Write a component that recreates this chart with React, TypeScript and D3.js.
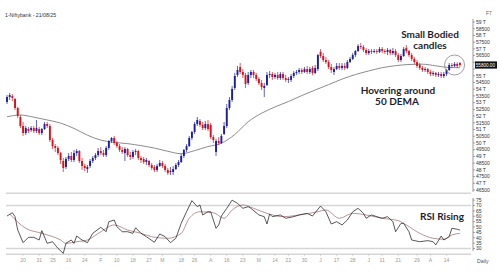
import React from 'react';
import * as d3 from 'd3';

// ---- Daily OHLC (Bank Nifty, Dec-2024 .. 21 Aug 2025) ----
const opens = [
  53050, 53420, 53490, 53270, 52600, 51930, 51260, 50740, 51040, 50960,
  51110, 50890, 51040, 50740, 51040, 51410, 51260, 50220, 49770, 49630,
  49250, 48660, 48210, 48810, 49030, 48730, 49250, 49400, 48660, 48290,
  48060, 48290, 48660, 48880, 49100, 49400, 49250, 49100, 49630, 50150,
  50370, 50000, 49770, 49480, 49250, 49550, 49100, 48960, 49330, 49400,
  48880, 48810, 48580, 48660, 48360, 48210, 47990, 48290, 48510, 48290,
  47990, 47840, 47840, 48060, 48360, 48580, 49030, 49480, 49770, 50370,
  50820, 51410, 51630, 51340, 51110, 51410, 51340, 50440, 49330, 50150,
  50000, 50670, 51260, 52600, 53200, 54090, 55060, 55650, 55280, 55060,
  54460, 55060, 55280, 55060, 54760, 54460, 54090, 54310, 55060, 55130,
  54910, 55060, 54830, 55130, 54830, 54690, 54690, 54980, 55210, 55280,
  55430, 55280, 55500, 55280, 55580, 55210, 55500, 56770, 56470, 56170,
  56020, 55650, 55280, 55500, 55730, 55580, 55730, 55580, 56020, 56250,
  56540, 56840, 57210, 57140, 56920, 56690, 56840, 56770, 56840, 56770,
  56990, 56840, 56770, 56920, 56690, 56840, 56540, 56170, 56470, 57070,
  56840, 56540, 56250, 56020, 55800, 55580, 55430, 55500, 55280, 55130,
  55210, 55060, 55130, 54980, 55130, 55430, 55800, 55730, 55880, 55950,
];
const highs = [
  53570, 53720, 53640, 53350, 52680, 52080, 51560, 51260, 51190, 51260,
  51260, 51710, 51190, 51110, 51560, 51560, 51410, 50370, 49920, 49770,
  49330, 48880, 48960, 49250, 49330, 49480, 49550, 49480, 48880, 48440,
  48360, 48810, 49030, 49250, 49630, 49700, 49480, 49770, 50220, 50440,
  50520, 50150, 49920, 49700, 49700, 49630, 49330, 49480, 49550, 49480,
  49030, 48960, 48880, 48730, 48510, 48360, 48440, 48730, 48660, 48440,
  48140, 48210, 48290, 48510, 48730, 49180, 49550, 49920, 50520, 50890,
  51560, 51930, 51780, 51560, 51630, 51710, 51490, 50590, 50300, 50440,
  50670, 51560, 52900, 53420, 54240, 55210, 55730, 55950, 55500, 55210,
  55280, 55430, 55430, 55210, 54910, 54690, 54460, 55280, 55350, 55280,
  55210, 55280, 55280, 55280, 55060, 54910, 55130, 55350, 55430, 55580,
  55580, 55650, 55730, 55650, 55730, 55800, 56620, 56990, 56690, 56400,
  56170, 55880, 55650, 55950, 55950, 55950, 55950, 56170, 56400, 56690,
  56920, 57360, 57440, 57290, 57070, 56990, 56990, 56990, 56990, 57140,
  57140, 56990, 57070, 56990, 57070, 56990, 56690, 56620, 57140, 57290,
  56920, 56690, 56400, 56170, 55950, 55730, 55650, 55580, 55430, 55350,
  55280, 55280, 55280, 55280, 55500, 55950, 55950, 56020, 56020, 56020,
];
const lows = [
  52900, 53200, 53120, 52450, 51860, 51110, 50520, 50590, 50740, 50820,
  50740, 50740, 50590, 50590, 50960, 51110, 50070, 49550, 49330, 49100,
  48440, 47840, 48060, 48660, 48580, 48580, 49030, 48510, 47990, 47910,
  47770, 48140, 48510, 48730, 48960, 49100, 48960, 48960, 49480, 50000,
  49850, 49630, 49330, 49180, 48660, 48960, 48730, 48810, 49100, 48730,
  48510, 48440, 48360, 48210, 47990, 47840, 47840, 48210, 48140, 47840,
  47620, 47620, 47620, 47990, 48210, 48510, 48880, 49330, 49700, 50220,
  50670, 51260, 51190, 50960, 50960, 50890, 50300, 50000, 49030, 49850,
  49920, 50590, 51110, 52450, 53050, 53940, 54910, 55130, 54830, 54090,
  54310, 54830, 54830, 54610, 54310, 53940, 53420, 54240, 54830, 54690,
  54760, 54690, 54690, 54690, 54540, 54460, 54540, 54830, 55060, 55130,
  55130, 55210, 55130, 55130, 55060, 55130, 55350, 56320, 56020, 55880,
  55500, 55210, 55060, 55430, 55430, 55430, 55430, 55500, 55950, 56170,
  56400, 56770, 56990, 56770, 56540, 56540, 56620, 56690, 56620, 56690,
  56690, 56620, 56540, 56540, 56540, 56400, 56020, 56020, 56400, 56690,
  56400, 56100, 55880, 55580, 55430, 55280, 55280, 55130, 54980, 54980,
  54910, 54910, 54830, 54830, 54980, 55350, 55580, 55650, 55580, 55650,
];
const closes = [
  53420, 53570, 53350, 52600, 52010, 51260, 50740, 51110, 50890, 51110,
  50890, 51110, 50740, 51040, 51410, 51260, 50220, 49770, 49630, 49250,
  48730, 48140, 48810, 49030, 48730, 49250, 49400, 48660, 48290, 48140,
  48210, 48660, 48880, 49100, 49400, 49250, 49100, 49630, 50150, 50370,
  50000, 49770, 49480, 49330, 49550, 49100, 48960, 49330, 49400, 48880,
  48730, 48580, 48730, 48360, 48140, 47990, 48290, 48510, 48290, 47990,
  47770, 47910, 48060, 48360, 48580, 49030, 49480, 49770, 50370, 50820,
  51410, 51710, 51340, 51110, 51410, 51040, 50440, 50220, 50150, 50000,
  50520, 51260, 52600, 53200, 54020, 54980, 55430, 55280, 55060, 54390,
  55060, 55280, 55060, 54760, 54460, 54160, 54240, 55060, 55130, 54910,
  55060, 54830, 55130, 54830, 54690, 54760, 54980, 55210, 55280, 55430,
  55280, 55500, 55280, 55500, 55210, 55580, 56540, 56470, 56170, 56020,
  55650, 55430, 55500, 55730, 55580, 55730, 55580, 56020, 56250, 56540,
  56840, 57210, 57140, 56920, 56690, 56840, 56770, 56840, 56770, 56990,
  56840, 56770, 56920, 56690, 56840, 56540, 56170, 56470, 56990, 56840,
  56540, 56250, 56020, 55730, 55580, 55430, 55500, 55280, 55130, 55210,
  55060, 55130, 54980, 55130, 55430, 55800, 55730, 55880, 55730, 55800,
];

// ---- 50 DEMA (sampled every 5 sessions) ----
const demaDays = [0, 5, 10, 15, 20, 25, 30, 35, 40, 45, 50, 55, 60, 65, 70, 75, 80, 85, 90, 95, 100, 105, 110, 115, 120, 125, 130, 135, 140, 145, 150, 155, 160, 165, 169];
const demaValues = [51950, 52080, 51920, 51710, 51480, 51080, 50580, 50210, 50040, 49950, 49800, 49620, 49380, 49200, 49430, 49730, 49980, 50630, 51580, 52210, 52680, 53080, 53530, 53940, 54340, 54750, 55090, 55360, 55600, 55750, 55840, 55860, 55740, 55610, 55600];

// ---- RSI and its average ----
const rsiDays = [0, 2, 3, 4, 6, 8, 10, 12, 13, 15, 17, 19, 21, 22, 24, 25, 26, 28, 30, 32, 35, 37, 38, 40, 41, 43, 45, 47, 48, 50, 52, 55, 57, 59, 61, 63, 65, 67, 69, 71, 72, 73, 75, 76, 78, 79, 80, 82, 84, 86, 88, 90, 91, 94, 96, 97, 98, 99, 102, 104, 107, 109, 112, 114, 117, 119, 121, 123, 125, 127, 129, 131, 133, 134, 136, 138, 140, 142, 144, 145, 147, 148, 150, 151, 154, 157, 159, 160, 162, 163, 165, 166, 168, 169];
const rsiValues = [60.2, 63.3, 59.6, 47.2, 35.4, 40.4, 40.4, 37.9, 46.6, 34.8, 36.3, 30.2, 25.5, 34.8, 37.9, 34.8, 41.6, 37.9, 35.4, 44.1, 49.7, 45.6, 54.9, 56.5, 50.3, 45.6, 45.6, 44.1, 49.3, 44.1, 41.0, 35.8, 43.5, 41.0, 35.4, 39.5, 53.4, 64.2, 74.5, 68.9, 70.5, 61.2, 64.2, 64.2, 48.8, 51.9, 60.2, 67.4, 75.0, 72.0, 67.4, 68.9, 67.4, 61.2, 59.6, 52.8, 62.1, 59.6, 61.2, 58.1, 59.6, 61.2, 62.7, 60.2, 69.5, 64.2, 52.8, 54.9, 51.9, 56.5, 64.2, 67.4, 62.7, 58.1, 61.2, 59.6, 58.1, 59.6, 54.9, 45.6, 53.4, 53.4, 45.6, 37.9, 36.3, 37.3, 36.3, 33.3, 41.6, 37.9, 41.0, 48.8, 47.9, 47.2];
const rsiAvgDays = [1, 7, 13, 20, 22, 26, 30, 35, 40, 45, 50, 54, 60, 65, 68, 72, 77, 81, 84, 88, 92, 97, 103, 109, 116, 119, 124, 129, 134, 140, 146, 149, 154, 159, 163, 166, 169];
const rsiAvgValues = [62.1, 48.8, 44.1, 37.9, 34.8, 36.3, 37.9, 45.6, 51.9, 47.2, 44.1, 41.0, 39.5, 44.1, 58.1, 64.2, 63.3, 58.1, 65.8, 70.5, 67.4, 62.7, 59.6, 61.2, 64.2, 65.8, 58.1, 62.7, 61.2, 58.1, 55.9, 51.9, 44.1, 39.5, 38.6, 42.6, 44.1];

// ---- Axes ----
const priceTicks = [59000, 58500, 58000, 57500, 57000, 56500, 56000, 55500, 55000, 54500, 54000, 53500, 53000, 52500, 52000, 51500, 51000, 50500, 50000, 49500, 49000, 48500, 48000, 47500, 47000, 46500];
const rsiTicks = [75, 70, 65, 60, 55, 50, 45, 40, 35, 30];
const xTickDays = [6, 12, 17, 23, 29, 35, 41, 47, 53, 58, 65, 70, 76, 82, 88, 94, 100, 105, 111, 117, 123, 129, 135, 140, 146, 153, 158, 164];
const xTickLabels = ['20', '31', "'25", '16', '24', 'F', '10', '18', '27', 'M', '18', '26', 'A', '16', '23', 'M', '14', '22', '30', 'J', '17', '28', 'J', '11', '21', '29', 'A', '14'];

const UP = '#1d1f9e';
const DOWN = '#d3141f';
const SEP = '#d6d6d6';
const TXT = '#1e1e2c';

export default function App() {
  const n = closes.length;
  const x = d3.scaleBand<number>().domain(d3.range(n)).range([5.66, 461.26]).padding(0);
  const cx = (i: number) => (x(i) as number) + x.bandwidth() / 2;
  const xl = d3.scaleLinear().domain([0, n - 1]).range([cx(0), cx(n - 1)]);
  const y = d3.scaleLinear().domain([46500, 59000]).range([190, 22]);
  const yr = d3.scaleLinear().domain([30, 70]).range([248.5, 205.5]);

  const demaLine = d3.line<number>().x((_, k) => xl(demaDays[k])).y((v) => y(v)).curve(d3.curveMonotoneX);
  const rsiLine = d3.line<number>().x((_, k) => xl(rsiDays[k])).y((v) => yr(v));
  const rsiAvgLine = d3.line<number>().x((_, k) => xl(rsiAvgDays[k])).y((v) => yr(v)).curve(d3.curveMonotoneX);

  const bodyW = 1.9;
  const axisX = 473;
  const fmtPrice = (v: number) => (v % 1000 === 0 ? `${v / 1000} T` : `${v}`);
  const last = closes[n - 1];
  const lastY = y(last);

  return (
    <svg width={500} height={280} style={{ position: 'absolute', left: 0, top: 0, background: '#fff' }}
      fontFamily="'Liberation Sans', Arial, sans-serif">
      <rect x={0} y={0} width={500} height={280} fill="#fff" />
      <text x={5} y={17} fontSize={5.2} fill="#333">1-Niftybank - 21/08/25</text>
      <text x={486} y={15} fontSize={5} fill="#666">F7</text>

      {/* panel separators / RSI levels */}
      <line x1={6} x2={471} y1={193.3} y2={193.3} stroke={SEP} strokeWidth={1.6} />
      <line x1={6} x2={471} y1={yr(70)} y2={yr(70)} stroke={SEP} strokeWidth={1.6} />
      <line x1={6} x2={471} y1={yr(30)} y2={yr(30)} stroke={SEP} strokeWidth={1.4} />
      <line x1={6} x2={471} y1={254.3} y2={254.3} stroke={SEP} strokeWidth={1.4} />

      {/* price axis */}
      <line x1={axisX} x2={axisX} y1={19} y2={192} stroke="#555" strokeWidth={0.6} />
      {priceTicks.map((t) => (
        <g key={t}>
          <line x1={axisX} x2={axisX + 2} y1={y(t)} y2={y(t)} stroke="#555" strokeWidth={0.5} />
          {Math.abs(y(t) - lastY) > 5 && (
            <text x={axisX + 3} y={y(t) + 1.8} fontSize={5} fill="#333">{fmtPrice(t)}</text>
          )}
        </g>
      ))}
      <rect x={axisX + 2} y={lastY - 3.6} width={22} height={7.2} fill="#111" />
      <text x={axisX + 2.8} y={lastY + 1.7} fontSize={4.6} fill="#fff">{last.toFixed(2)}</text>

      {/* RSI axis */}
      <line x1={axisX} x2={axisX} y1={198} y2={251} stroke="#555" strokeWidth={0.6} />
      {rsiTicks.map((t) => (
        <g key={t}>
          <line x1={axisX} x2={axisX + 2} y1={yr(t)} y2={yr(t)} stroke="#555" strokeWidth={0.5} />
          <text x={axisX + 3} y={yr(t) + 1.8} fontSize={5} fill="#333">{t}</text>
        </g>
      ))}

      {/* x axis */}
      {xTickDays.map((d, k) => (
        <g key={k}>
          <line x1={xl(d)} x2={xl(d)} y1={254.3} y2={256.3} stroke="#bbb" strokeWidth={0.5} />
          <text x={xl(d)} y={262} fontSize={5} fill="#999" textAnchor="middle">{xTickLabels[k]}</text>
        </g>
      ))}
      <text x={477} y={263} fontSize={5.2} fill="#555">Daily</text>

      {/* DEMA */}
      <path d={demaLine(demaValues) || ''} fill="none" stroke="#8c8c8c" strokeWidth={1} />

      {/* candles */}
      {closes.map((c, i) => {
        const o = opens[i];
        const col = c >= o ? UP : DOWN;
        const top = y(Math.max(o, c));
        const bot = y(Math.min(o, c));
        return (
          <g key={i}>
            <line x1={cx(i)} x2={cx(i)} y1={y(highs[i])} y2={y(lows[i])} stroke={col} strokeWidth={0.7} />
            <rect x={cx(i) - bodyW / 2} y={top} width={bodyW} height={Math.max(0.8, bot - top)} fill={col} />
          </g>
        );
      })}

      {/* RSI */}
      <path d={rsiAvgLine(rsiAvgValues) || ''} fill="none" stroke="#a57a7f" strokeWidth={0.8} />
      <path d={rsiLine(rsiValues) || ''} fill="none" stroke="#222" strokeWidth={0.75} />

      {/* annotations */}
      <circle cx={xl(167)} cy={y(55800)} r={10} fill="none" stroke="#777" strokeWidth={0.7} />
      <g fontFamily="Lato, 'Open Sans', sans-serif" fontWeight={700} fontSize={10} fill={TXT} textAnchor="middle">
        <text x={430} y={38}>Small Bodied</text>
        <text x={430} y={49}>candles</text>
        <text x={398} y={93.5}>Hovering around</text>
        <text x={397} y={104.5}>50 DEMA</text>
        <text x={442} y={219.5}>RSI Rising</text>
      </g>
    </svg>
  );
}
